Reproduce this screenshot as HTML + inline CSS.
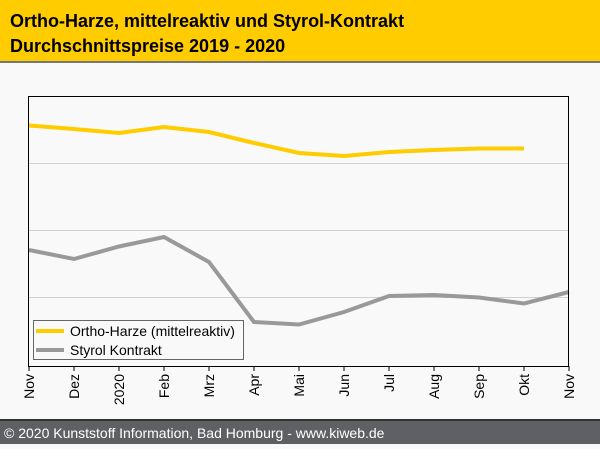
<!DOCTYPE html>
<html><head><meta charset="utf-8"><style>
body{margin:0;width:600px;height:444px;overflow:hidden;background:#f9f9f9;font-family:"Liberation Sans",sans-serif}
</style></head><body>
<svg width="600" height="444" xmlns="http://www.w3.org/2000/svg" font-family="Liberation Sans, sans-serif">
<rect x="0" y="0" width="600" height="444" fill="#f9f9f9"/>
<rect x="0" y="0" width="600" height="61" fill="#ffcc00"/>
<rect x="0" y="61" width="600" height="2" fill="#777"/>
<text x="10" y="27" font-size="18" font-weight="bold" fill="#000">Ortho-Harze, mittelreaktiv und Styrol-Kontrakt</text>
<text x="10" y="52" font-size="18" font-weight="bold" fill="#000">Durchschnittspreise 2019 - 2020</text>
<g stroke="#d0d0d0" stroke-width="1">
<line x1="29" y1="163.5" x2="569" y2="163.5"/>
<line x1="29" y1="230.5" x2="569" y2="230.5"/>
<line x1="29" y1="297.5" x2="569" y2="297.5"/>
</g>
<polyline fill="none" stroke="#ffcc00" stroke-width="4" points="29,125.5 74,129 119,133 164,127 209,132 254,143 299,153 344,156 389,152 434,150 479,148.5 524,148.5"/>
<polyline fill="none" stroke="#999" stroke-width="4" points="29,250 74,259 119,246.5 164,237 209,262 254,322 299,324.5 344,312 389,296 434,295 479,297.5 524,303.5 569,292"/>
<rect x="28.5" y="96.5" width="540" height="270" fill="none" stroke="#000" stroke-width="1"/>
<g stroke="#000" stroke-width="1">
<line x1="29" y1="366" x2="29" y2="371"/><line x1="74" y1="366" x2="74" y2="371"/><line x1="119" y1="366" x2="119" y2="371"/><line x1="164" y1="366" x2="164" y2="371"/><line x1="209" y1="366" x2="209" y2="371"/><line x1="254" y1="366" x2="254" y2="371"/><line x1="299" y1="366" x2="299" y2="371"/><line x1="344" y1="366" x2="344" y2="371"/><line x1="389" y1="366" x2="389" y2="371"/><line x1="434" y1="366" x2="434" y2="371"/><line x1="479" y1="366" x2="479" y2="371"/><line x1="524" y1="366" x2="524" y2="371"/><line x1="569" y1="366" x2="569" y2="371"/>
</g>
<g font-size="14" fill="#000" text-anchor="end">
<text transform="translate(34,374) rotate(-90)">Nov</text>
<text transform="translate(79,374) rotate(-90)">Dez</text>
<text transform="translate(124,374) rotate(-90)">2020</text>
<text transform="translate(169,374) rotate(-90)">Feb</text>
<text transform="translate(214,374) rotate(-90)">Mrz</text>
<text transform="translate(259,374) rotate(-90)">Apr</text>
<text transform="translate(304,374) rotate(-90)">Mai</text>
<text transform="translate(349,374) rotate(-90)">Jun</text>
<text transform="translate(394,374) rotate(-90)">Jul</text>
<text transform="translate(439,374) rotate(-90)">Aug</text>
<text transform="translate(484,374) rotate(-90)">Sep</text>
<text transform="translate(529,374) rotate(-90)">Okt</text>
<text transform="translate(574,374) rotate(-90)">Nov</text>
</g>
<rect x="33.5" y="320.5" width="210" height="39" fill="#f9f9f9" stroke="#666" stroke-width="1"/>
<line x1="36" y1="331" x2="64" y2="331" stroke="#ffcc00" stroke-width="4"/>
<line x1="36" y1="350" x2="64" y2="350" stroke="#999" stroke-width="4"/>
<text x="70" y="336" font-size="14" fill="#000">Ortho-Harze (mittelreaktiv)</text>
<text x="70" y="355" font-size="14" fill="#000">Styrol Kontrakt</text>
<rect x="0" y="419" width="600" height="2" fill="#333"/>
<rect x="0" y="421" width="600" height="23" fill="#5f6064"/>
<text x="4" y="438" font-size="14" fill="#fff">© 2020 Kunststoff Information, Bad Homburg - www.kiweb.de</text>
</svg>
</body></html>
